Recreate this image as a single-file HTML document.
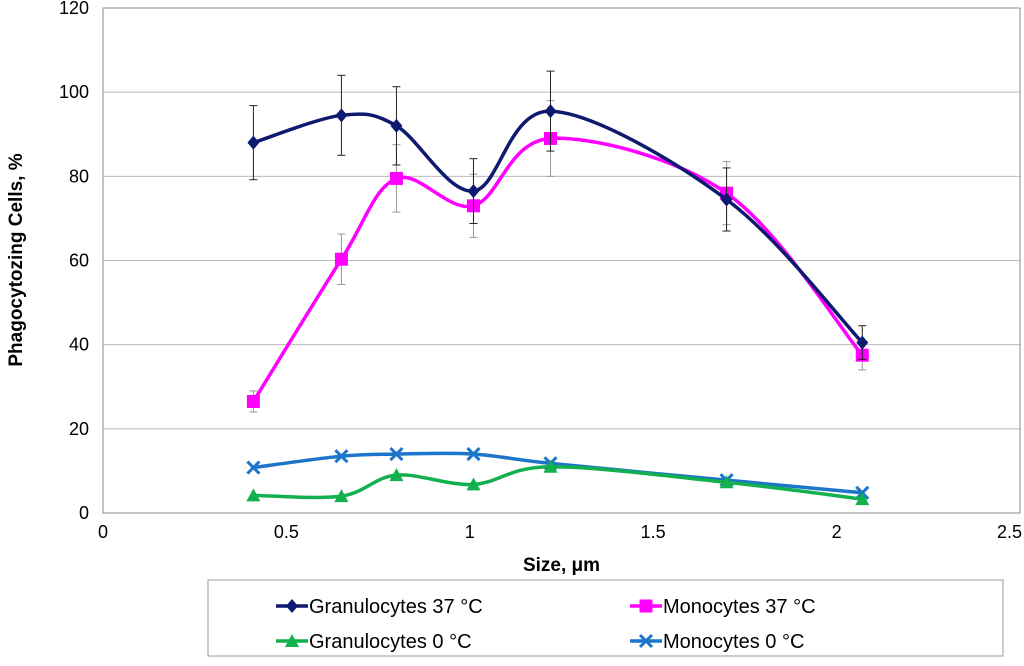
<!DOCTYPE html>
<html><head><meta charset="utf-8"><style>
body{margin:0;background:#fff;font-family:"Liberation Sans",sans-serif}
</style></head><body>
<svg id="c" width="1024" height="661" xmlns="http://www.w3.org/2000/svg"></svg>
<script>
const xs=[0.41,0.65,0.80,1.01,1.22,1.70,2.07];
const gran37=[88,94.5,92,76.5,95.5,74.5,40.5];
const gran37Err=[8.8,9.5,9.3,7.7,9.5,7.5,4];
const mono37=[26.5,60.3,79.5,73,89,76,37.5];
const mono37Err=[2.5,6,8,7.5,9,7.5,3.5];
const gran0=[4.2,4,9,6.8,11,7.3,3.3];
const mono0=[10.8,13.5,14,14,11.8,7.8,4.8];
const xTicks=[0,0.5,1,1.5,2,2.5];
const yTicks=[0,20,40,60,80,100,120];
const svg=document.getElementById('c');const NS='http://www.w3.org/2000/svg';
const X0=103,X1=1020,Y0=513,Y1=8;
const sx=v=>X0+(v/2.5)*(X1-X0), sy=v=>Y0-(v/120)*(Y0-Y1);
function el(t,a,p){const e=document.createElementNS(NS,t);for(const k in a)e.setAttribute(k,a[k]);(p||svg).appendChild(e);return e;}
yTicks.forEach(t=>{if(t>0){const g=el('line',{x1:X0,x2:X1,y1:sy(t),y2:sy(t),stroke:'#bbb','stroke-width':1});

}
const l=el('text',{x:X0-14,y:sy(t)+6,'text-anchor':'end','font-size':18,fill:'#000'});l.textContent=t;

});
xTicks.forEach((t,i)=>{const last=i===xTicks.length-1;const l=el('text',{x:last?1022:sx(t),y:Y0+25,'text-anchor':last?'end':'middle','font-size':18});l.textContent=t;

});
const frame=el('rect',{x:X0,y:Y1,width:X1-X0,height:Y0-Y1,fill:'none',stroke:'#888'});


const xt=el('text',{x:(X0+X1)/2,y:571,'text-anchor':'middle','font-size':19,'font-weight':'bold'});xt.textContent='Size, μm';


const yt=el('text',{x:0,y:0,'text-anchor':'middle','font-size':19,'font-weight':'bold',transform:'translate(22,260) rotate(-90)'});yt.textContent='Phagocytozing Cells, %';


function smooth(p){let d=`M${p[0][0]},${p[0][1]}`;for(let i=0;i<p.length-1;i++){const a=p[i-1]||p[i],b=p[i],c=p[i+1],e=p[i+2]||c;
d+=` C${b[0]+(c[0]-a[0])/6},${b[1]+(c[1]-a[1])/6} ${c[0]-(e[0]-b[0])/6},${c[1]-(e[1]-b[1])/6} ${c[0]},${c[1]}`;}return d;}
function marker(type,x,y,col,g){
if(type==='d')el('polygon',{points:`${x},${y-7} ${x+6},${y} ${x},${y+7} ${x-6},${y}`,fill:col},g);
else if(type==='s')el('rect',{x:x-6.5,y:y-6.5,width:13,height:13,fill:col},g);
else if(type==='t')el('polygon',{points:`${x},${y-7} ${x+7},${y+6} ${x-7},${y+6}`,fill:col},g);
else{el('line',{x1:x-6,y1:y-6,x2:x+6,y2:y+6,stroke:col,'stroke-width':3},g);el('line',{x1:x-6,y1:y+6,x2:x+6,y2:y-6,stroke:col,'stroke-width':3},g);}}
function series(name,vals,err,col,type,ecol){
const g=el('g',{});
if(err)vals.forEach((v,i)=>{const x=sx(xs[i]);el('line',{x1:x,x2:x,y1:sy(v-err[i]),y2:sy(v+err[i]),stroke:ecol,'stroke-width':1},g);
[v-err[i],v+err[i]].forEach(w=>el('line',{x1:x-4,x2:x+4,y1:sy(w),y2:sy(w),stroke:ecol,'stroke-width':1},g));});
const pts=vals.map((v,i)=>[sx(xs[i]),sy(v)]);
el('path',{d:smooth(pts),fill:'none',stroke:col,'stroke-width':3.5},g);
pts.forEach(p=>marker(type,p[0],p[1],col,g));}
series('mono-0-series',mono0,null,'#1c75c8','x');
series('gran-0-series',gran0,null,'#12b04f','t');
series('mono-37-series',mono37,mono37Err,'#ff00ff','s','#999');
series('gran-37-series',gran37,gran37Err,'#0d1a6e','d','#222');
const lg=el('g',{});
el('rect',{x:208,y:580,width:795,height:76,fill:'#fff',stroke:'#999'},lg);
[['Granulocytes 37 °C','#0d1a6e','d',276,606],['Monocytes 37 °C','#ff00ff','s',630,606],['Granulocytes 0 °C','#12b04f','t',276,641],['Monocytes 0  °C','#1c75c8','x',630,641]].forEach(e=>{
const g=el('g',{},lg);
el('line',{x1:e[3],x2:e[3]+32,y1:e[4],y2:e[4],stroke:e[1],'stroke-width':3.5},g);marker(e[2],e[3]+16,e[4],e[1],g);
const t=el('text',{x:e[3]+33,y:e[4]+7,'font-size':20},g);t.textContent=e[0];});
</script></body></html>
